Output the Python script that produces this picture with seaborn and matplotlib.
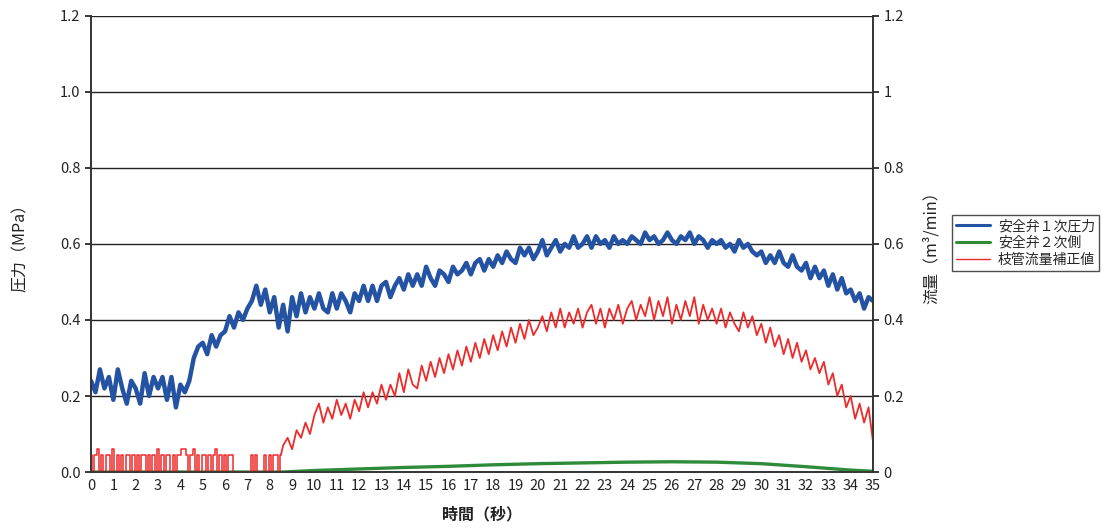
import numpy as np
import pandas as pd
import matplotlib
matplotlib.use("Agg")
import matplotlib.pyplot as plt
import seaborn as sns

# 安全弁1次圧力 (MPa), 0.2秒ごと 0〜35秒
blue_vals = [
    0.24, 0.21, 0.27, 0.22, 0.25, 0.19, 0.27, 0.22, 0.18, 0.24,
    0.22, 0.18, 0.26, 0.20, 0.25, 0.22, 0.25, 0.19, 0.25, 0.17,
    0.23, 0.21, 0.24, 0.30, 0.33, 0.34, 0.31, 0.36, 0.33, 0.36,
    0.37, 0.41, 0.38, 0.42, 0.40, 0.43, 0.45, 0.49, 0.44, 0.48,
    0.42, 0.46, 0.38, 0.44, 0.37, 0.46, 0.41, 0.47, 0.42, 0.46,
    0.43, 0.47, 0.43, 0.42, 0.47, 0.43, 0.47, 0.45, 0.42, 0.47,
    0.45, 0.49, 0.45, 0.49, 0.45, 0.49, 0.50, 0.46, 0.49, 0.51,
    0.48, 0.52, 0.49, 0.52, 0.49, 0.54, 0.51, 0.49, 0.53, 0.52,
    0.50, 0.54, 0.52, 0.53, 0.55, 0.52, 0.55, 0.56, 0.53, 0.56,
    0.54, 0.57, 0.55, 0.58, 0.56, 0.55, 0.59, 0.57, 0.59, 0.56,
    0.58, 0.61, 0.57, 0.59, 0.61, 0.58, 0.60, 0.59, 0.62, 0.59,
    0.60, 0.62, 0.59, 0.62, 0.60, 0.61, 0.59, 0.62, 0.60, 0.61,
    0.60, 0.62, 0.61, 0.60, 0.63, 0.61, 0.62, 0.60, 0.61, 0.63,
    0.61, 0.60, 0.62, 0.61, 0.63, 0.60, 0.62, 0.61, 0.59, 0.61,
    0.60, 0.61, 0.59, 0.60, 0.58, 0.61, 0.59, 0.60, 0.58, 0.57,
    0.58, 0.55, 0.57, 0.55, 0.58, 0.55, 0.54, 0.57, 0.54, 0.53,
    0.55, 0.51, 0.54, 0.51, 0.53, 0.49, 0.52, 0.48, 0.51, 0.47,
    0.48, 0.45, 0.47, 0.43, 0.46, 0.45,
]

# 枝管流量補正値 (m3/min): 0〜8.5秒は0.1秒ごと, 8.6〜35秒は0.2秒ごと
red_low = [
    0.045, 0, 0.045, 0.06, 0, 0.045, 0, 0.045, 0.045, 0,
    0.06, 0, 0.045, 0, 0.045, 0, 0.045, 0.045, 0, 0.045,
    0, 0.045, 0, 0.045, 0.045, 0, 0.045, 0, 0.045, 0,
    0.06, 0, 0.045, 0, 0.045, 0.045, 0, 0.045, 0, 0.045,
    0.045, 0.06, 0.06, 0.045, 0, 0.045, 0.06, 0, 0.045, 0,
    0.045, 0.045, 0, 0.045, 0, 0.045, 0.06, 0, 0.045, 0,
    0.045, 0, 0.045, 0.045, 0, 0, 0, 0, 0, 0,
    0, 0, 0.045, 0, 0.045, 0, 0, 0, 0.045, 0,
    0.045, 0, 0.045, 0.045, 0, 0.045,
]
red_main = [
    0.07, 0.09, 0.06, 0.11, 0.09,
    0.13, 0.10, 0.15, 0.18, 0.13, 0.17, 0.14, 0.19, 0.15, 0.18,
    0.14, 0.19, 0.16, 0.21, 0.17, 0.21, 0.18, 0.23, 0.19, 0.23,
    0.20, 0.26, 0.21, 0.27, 0.23, 0.22, 0.28, 0.24, 0.29, 0.25,
    0.30, 0.26, 0.31, 0.27, 0.32, 0.28, 0.33, 0.29, 0.34, 0.30,
    0.35, 0.31, 0.36, 0.32, 0.37, 0.33, 0.38, 0.34, 0.39, 0.35,
    0.40, 0.36, 0.38, 0.41, 0.37, 0.42, 0.38, 0.43, 0.38, 0.42,
    0.39, 0.43, 0.38, 0.42, 0.44, 0.39, 0.43, 0.38, 0.43, 0.40,
    0.44, 0.39, 0.43, 0.45, 0.40, 0.44, 0.41, 0.46, 0.40, 0.45,
    0.41, 0.46, 0.39, 0.44, 0.40, 0.45, 0.41, 0.46, 0.39, 0.44,
    0.40, 0.43, 0.39, 0.43, 0.38, 0.42, 0.39, 0.37, 0.42, 0.38,
    0.41, 0.36, 0.39, 0.34, 0.38, 0.33, 0.36, 0.31, 0.35, 0.30,
    0.34, 0.29, 0.32, 0.27, 0.30, 0.26, 0.29, 0.23, 0.26, 0.20,
    0.23, 0.17, 0.20, 0.14, 0.18, 0.13, 0.17, 0.08,
]

# 安全弁2次側
green_t = [0, 8.6, 10, 12, 14, 16, 18, 20, 22, 24, 26, 28, 30, 32, 34, 35]
green_vals = [0, 0, 0.004, 0.008, 0.012, 0.015, 0.019, 0.022, 0.024, 0.026,
              0.027, 0.026, 0.022, 0.014, 0.005, 0.002]

labels = ["安全弁１次圧力", "安全弁２次側", "枝管流量補正値"]
colors = ["#2453a4", "#2e8b3a", "#ee2a2a"]

blue_t = np.round(np.arange(len(blue_vals)) * 0.2, 2)
red_low_t = np.round(np.arange(len(red_low)) * 0.1, 2)
red_main_t = np.round(8.6 + np.arange(len(red_main)) * 0.2, 2)
df_blue = pd.DataFrame({"t": blue_t, "v": blue_vals})
df_red_low = pd.DataFrame({"t": red_low_t, "v": red_low})
df_red_main = pd.DataFrame({"t": np.r_[red_low_t[-1], red_main_t], "v": [red_low[-1]] + red_main})
df_green = pd.DataFrame({"t": green_t, "v": green_vals})

sns.set_theme(style="white")
plt.rcParams["font.family"] = ["Noto Sans CJK JP", "DejaVu Sans"]

fig = plt.figure(figsize=(11.03, 5.28), dpi=100)
ax = fig.add_axes([0.0825, 0.106, 0.709, 0.864])
ax2 = ax.twinx()

sns.lineplot(data=df_blue, x="t", y="v", ax=ax, color=colors[0], lw=3.2, label=labels[0], legend=False)
sns.lineplot(data=df_green, x="t", y="v", ax=ax2, color=colors[1], lw=2.4, label=labels[1], legend=False)
sns.lineplot(data=df_red_low, x="t", y="v", ax=ax2, color=colors[2], lw=1.1, label=labels[2], legend=False,
             drawstyle="steps-mid")
sns.lineplot(data=df_red_main, x="t", y="v", ax=ax2, color=colors[2], lw=1.3, legend=False)

yt = np.arange(0, 1.21, 0.2)
for a in (ax, ax2):
    a.set_xlim(0, 35)
    a.set_ylim(0, 1.2)
    a.set_yticks(yt)
    for s in a.spines.values():
        s.set_color("#333333")
        s.set_linewidth(1.2)
    a.spines["top"].set_visible(False)
ax.set_yticklabels([f"{v:.1f}" for v in yt])
ax2.set_yticklabels(["0", "0.2", "0.4", "0.6", "0.8", "1", "1.2"])
for v in yt[1:]:
    ax.axhline(v, color="#222222", lw=1.0, zorder=0)

ax.set_xticks(range(0, 36))
ax.tick_params(axis="x", direction="in", length=3, labelsize=10.5, pad=5, colors="#222222")
ax.tick_params(axis="y", direction="out", length=4, labelsize=10.5, colors="#222222")
ax2.tick_params(axis="y", direction="out", length=4, labelsize=10.5, colors="#222222")

ax.set_xlabel("時間（秒）", fontsize=11.5, labelpad=10, color="#222222", fontweight="bold")
ax.set_ylabel("圧力（MPa）", fontsize=11.5, labelpad=22, color="#222222")
ax2.set_ylabel("流量（m³/min）", fontsize=11.5, labelpad=14, color="#222222")

handles = ax.get_lines()[:1] + ax2.get_lines()[:2]
leg = fig.legend(handles, labels, loc="upper left", bbox_to_anchor=(0.857, 0.606),
                 frameon=True, fancybox=False, fontsize=10, borderpad=0.3,
                 handlelength=2.4, handletextpad=0.6, labelspacing=0.2)
leg.get_frame().set_edgecolor("#222222")
leg.get_frame().set_linewidth(1.0)
leg.get_lines()[0].set_linewidth(2.2)
leg.get_lines()[1].set_linewidth(2.2)
leg.get_lines()[2].set_linewidth(1.0)

fig.savefig("out.png", dpi=100)
